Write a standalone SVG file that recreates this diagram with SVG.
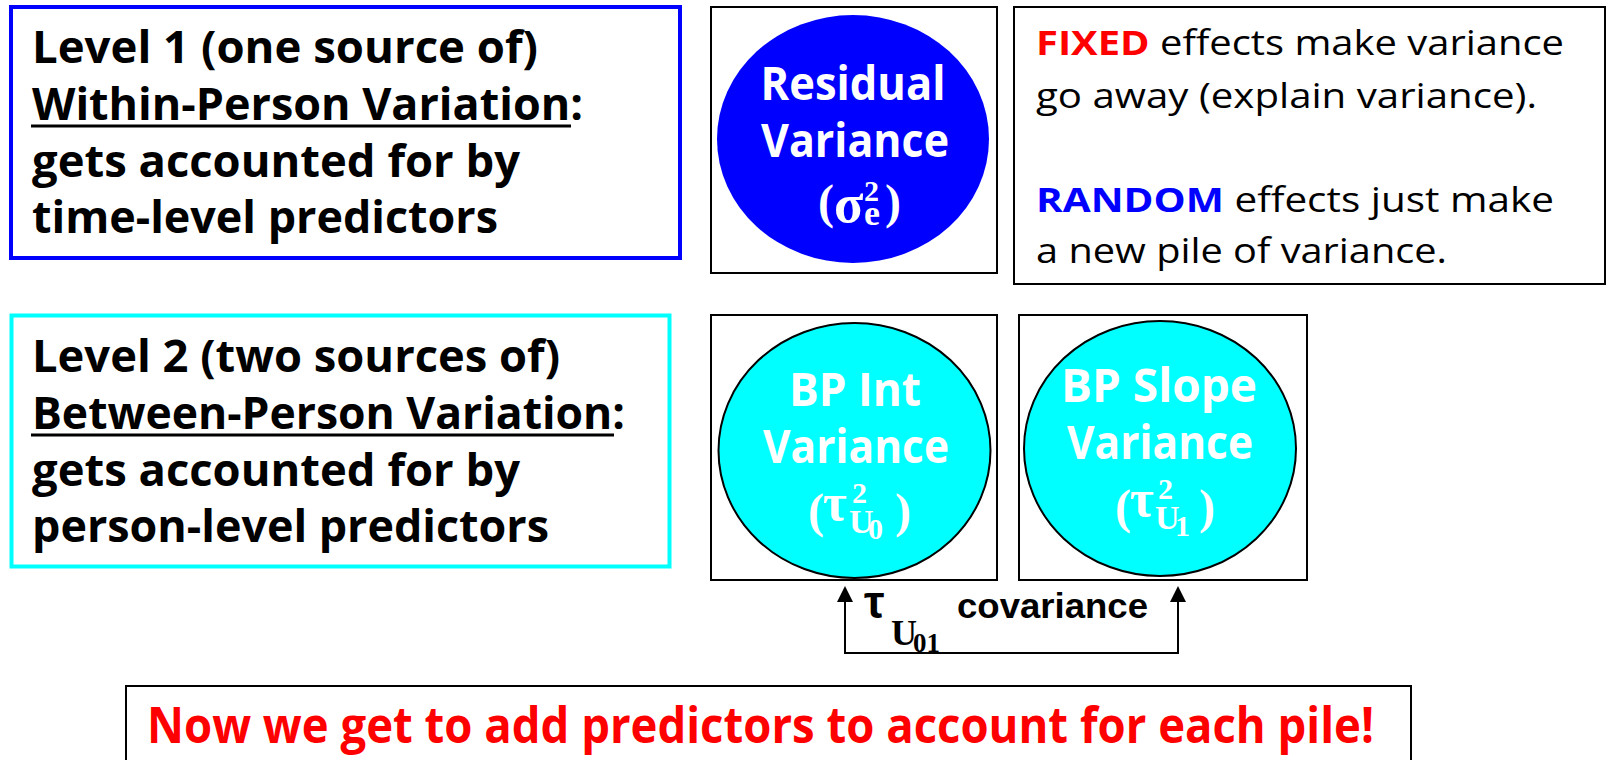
<svg xmlns="http://www.w3.org/2000/svg" width="1608" height="760" viewBox="0 0 1608 760">
<defs>
<style>
.lbl{font-family:"Open Sans","Noto Sans",sans-serif;font-weight:bold;font-size:44px;fill:#000}
.note{font-family:"Open Sans","Noto Sans",sans-serif;font-size:34px;fill:#000}
.cir{font-family:"Open Sans","Noto Sans",sans-serif;font-weight:bold;font-size:46px;fill:#fff;text-anchor:middle}
.math{font-family:"Liberation Serif","DejaVu Serif",serif;font-weight:bold;fill:#fff}
.box{fill:#fff;stroke:#000;stroke-width:2}
.conn{fill:none;stroke:#000;stroke-width:2}
.head{fill:#000}
</style>
</defs>
<rect width="1608" height="760" fill="#fff"/>

<g id="level1">
<rect x="11" y="7" width="669" height="251" fill="#fff" stroke="#0000ff" stroke-width="4"/>
<text class="lbl" x="32" y="63" textLength="506" lengthAdjust="spacingAndGlyphs">Level 1 (one source of)</text>
<text class="lbl" x="32" y="120" textLength="551" lengthAdjust="spacingAndGlyphs">Within-Person Variation:</text>
<line x1="31" y1="126" x2="571" y2="126" stroke="#000" stroke-width="3"/>
<text class="lbl" x="32" y="177" textLength="488" lengthAdjust="spacingAndGlyphs">gets accounted for by</text>
<text class="lbl" x="32" y="233" textLength="466" lengthAdjust="spacingAndGlyphs">time-level predictors</text>
</g>

<g id="level2">
<rect x="11.5" y="315.5" width="658" height="251" fill="#fff" stroke="#00ffff" stroke-width="4"/>
<text class="lbl" x="32" y="372" textLength="528" lengthAdjust="spacingAndGlyphs">Level 2 (two sources of)</text>
<text class="lbl" x="32" y="429" textLength="593" lengthAdjust="spacingAndGlyphs">Between-Person Variation:</text>
<line x1="31" y1="435" x2="614" y2="435" stroke="#000" stroke-width="3"/>
<text class="lbl" x="32" y="486" textLength="488" lengthAdjust="spacingAndGlyphs">gets accounted for by</text>
<text class="lbl" x="32" y="542" textLength="517" lengthAdjust="spacingAndGlyphs">person-level predictors</text>
</g>

<g id="residual">
<rect class="box" x="711" y="7" width="286" height="266"/>
<ellipse cx="853" cy="139" rx="136" ry="124" fill="#0000ff"/>
<text class="cir" x="853" y="100" textLength="185" lengthAdjust="spacingAndGlyphs">Residual</text>
<text class="cir" x="855" y="157" textLength="188" lengthAdjust="spacingAndGlyphs">Variance</text>
<text class="math"><tspan x="818" y="218" font-size="48">(</tspan><tspan x="834" y="222" font-size="54">σ</tspan><tspan x="864" y="201" font-size="30">2</tspan><tspan x="864" y="225" font-size="36">e</tspan><tspan x="885" y="218" font-size="48">)</tspan></text>
</g>

<g id="fixed-random-note">
<rect class="box" x="1014" y="7" width="591" height="277"/>
<text class="note" x="1036" y="55" textLength="528" lengthAdjust="spacingAndGlyphs"><tspan fill="#ff0000" font-weight="bold">FIXED</tspan> effects make variance</text>
<text class="note" x="1036" y="108" textLength="501" lengthAdjust="spacingAndGlyphs">go away (explain variance).</text>
<text class="note" x="1036" y="212" textLength="518" lengthAdjust="spacingAndGlyphs"><tspan fill="#0000ff" font-weight="bold">RANDOM</tspan> effects just make</text>
<text class="note" x="1036" y="263" textLength="411" lengthAdjust="spacingAndGlyphs">a new pile of variance.</text>
</g>

<g id="bp-int">
<rect class="box" x="711" y="315" width="286" height="265"/>
<ellipse cx="854.5" cy="450.5" rx="136" ry="127.5" fill="#00ffff" stroke="#000" stroke-width="2"/>
<text class="cir" x="855" y="406" textLength="132" lengthAdjust="spacingAndGlyphs">BP Int</text>
<text class="cir" x="856" y="463" textLength="186" lengthAdjust="spacingAndGlyphs">Variance</text>
<text class="math"><tspan x="808" y="527" font-size="48">(</tspan><tspan x="823" y="520" font-size="52">τ</tspan><tspan x="852" y="503" font-size="30">2</tspan><tspan x="849" y="533" font-size="34">U</tspan><tspan x="868" y="539" font-size="30">0</tspan><tspan x="895" y="527" font-size="48">)</tspan></text>
</g>

<g id="bp-slope">
<rect class="box" x="1019" y="315" width="288" height="265"/>
<ellipse cx="1160" cy="448.5" rx="136" ry="127.5" fill="#00ffff" stroke="#000" stroke-width="2"/>
<text class="cir" x="1159" y="402" textLength="196" lengthAdjust="spacingAndGlyphs">BP Slope</text>
<text class="cir" x="1160" y="459" textLength="186" lengthAdjust="spacingAndGlyphs">Variance</text>
<text class="math"><tspan x="1115" y="523" font-size="48">(</tspan><tspan x="1130" y="516" font-size="52">τ</tspan><tspan x="1158" y="499" font-size="30">2</tspan><tspan x="1155" y="529" font-size="34">U</tspan><tspan x="1175" y="536" font-size="30">1</tspan><tspan x="1199" y="523" font-size="48">)</tspan></text>
</g>

<g id="connectors">
<path class="conn" d="M845,601 L845,653 L1178,653 L1178,601"/>
<path class="head" d="M837,602 L845,586 L853,602 Z"/>
<path class="head" d="M1170,602 L1178,586 L1186,602 Z"/>
<text font-weight="bold"><tspan x="864" y="618" font-family="Liberation Sans, Arial, sans-serif" font-size="46">τ</tspan><tspan x="891" y="645" font-family="Liberation Serif, serif" font-size="36">U</tspan><tspan x="913" y="652" font-family="Liberation Serif, serif" font-size="27">01</tspan></text>
<text x="957" y="618" font-family="Liberation Sans, Arial, sans-serif" font-weight="bold" font-size="35" textLength="191" lengthAdjust="spacingAndGlyphs">covariance</text>
</g>

<g id="banner">
<rect x="126" y="686" width="1285" height="80" fill="#fff" stroke="#000" stroke-width="2"/>
<text x="147" y="743" font-family="Open Sans, Noto Sans, sans-serif" font-weight="bold" font-size="50" fill="#ff0000" textLength="1227" lengthAdjust="spacingAndGlyphs">Now we get to add predictors to account for each pile!</text>
</g>
</svg>
